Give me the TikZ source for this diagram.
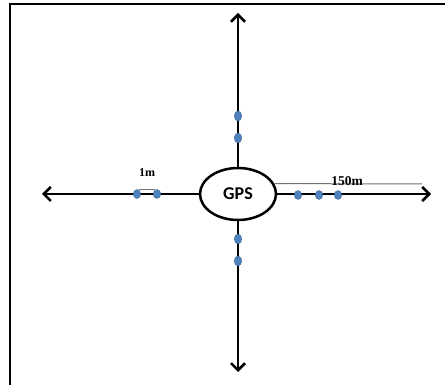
\documentclass[tikz,border=0pt]{standalone}
\usepackage{fontspec}
\usetikzlibrary{arrows.meta,shapes.geometric}
\newfontfamily\gpsfont{Carlito}
\newfontfamily\distfont{Liberation Serif}
\definecolor{dotblue}{HTML}{4F81BD}
\definecolor{dotedge}{HTML}{3A6597}
\begin{document}
\begin{tikzpicture}[x=1pt,y=-1pt,
  axis/.style={line width=2.5pt,
    -{Straight Barb[length=7pt,width=14pt,line width=2.5pt]}},
  hub/.style={ellipse,draw,line width=2.5pt,minimum width=76pt,
    minimum height=52pt,inner sep=0pt,fill=white},
  dot/.style={ellipse,fill=dotblue,draw=dotedge,line width=0.4pt,
    minimum width=7.5pt,minimum height=9pt,inner sep=0pt},
  measure/.style={draw=black!55,line width=1pt},
  dist/.style={font=\distfont\bfseries,inner sep=0pt}
]
\useasboundingbox (0,0) rectangle (445,385);
% open frame: top and left edges
\draw[line width=2pt] (10,385) -- (10,4.5) -- (445,4.5);

% central receiver
\node[hub,font=\gpsfont\bfseries\fontsize{18}{21}\selectfont] (gps) at (238,194) {GPS};

% arrow tips of the four axes
\coordinate (tipN) at (238,13);
\coordinate (tipS) at (238,372);
\coordinate (tipW) at (42,194);
\coordinate (tipE) at (431,194);

\draw[axis] (gps.north) -- (tipN);
\draw[axis] (gps.south) -- (tipS);
\draw[axis] (gps.west) -- (tipW);
\draw[axis] (gps.east) -- (tipE);

% sample points along the axes
\node[dot] (w1) at (137,194) {};
\node[dot] (w2) at (157,194) {};
\node[dot] (e1) at (298,195) {};
\node[dot] (e2) at (319,195) {};
\node[dot] (e3) at (338,195) {};
\node[dot,minimum height=10pt] (n1) at (238,116) {};
\node[dot,minimum height=10pt] (n2) at (238,138) {};
\node[dot,minimum height=10pt] (s1) at (238,239) {};
\node[dot,minimum height=10pt] (s2) at (238,261) {};

% spacing between neighbouring points
\draw[measure,line width=0.8pt] (w1.70) -- (w2.110);
\node[dist,anchor=base,font=\distfont\bfseries\fontsize{12}{14}\selectfont] (onem) at (147,177) {1m};

% total range
\coordinate (rangeEnd) at (422,184);
\draw[measure] (gps.16) -- (rangeEnd);
\node[dist,anchor=base,font=\distfont\bfseries\fontsize{13.5}{16}\selectfont] (range) at (347,185.5) {150m};
\end{tikzpicture}
\end{document}
